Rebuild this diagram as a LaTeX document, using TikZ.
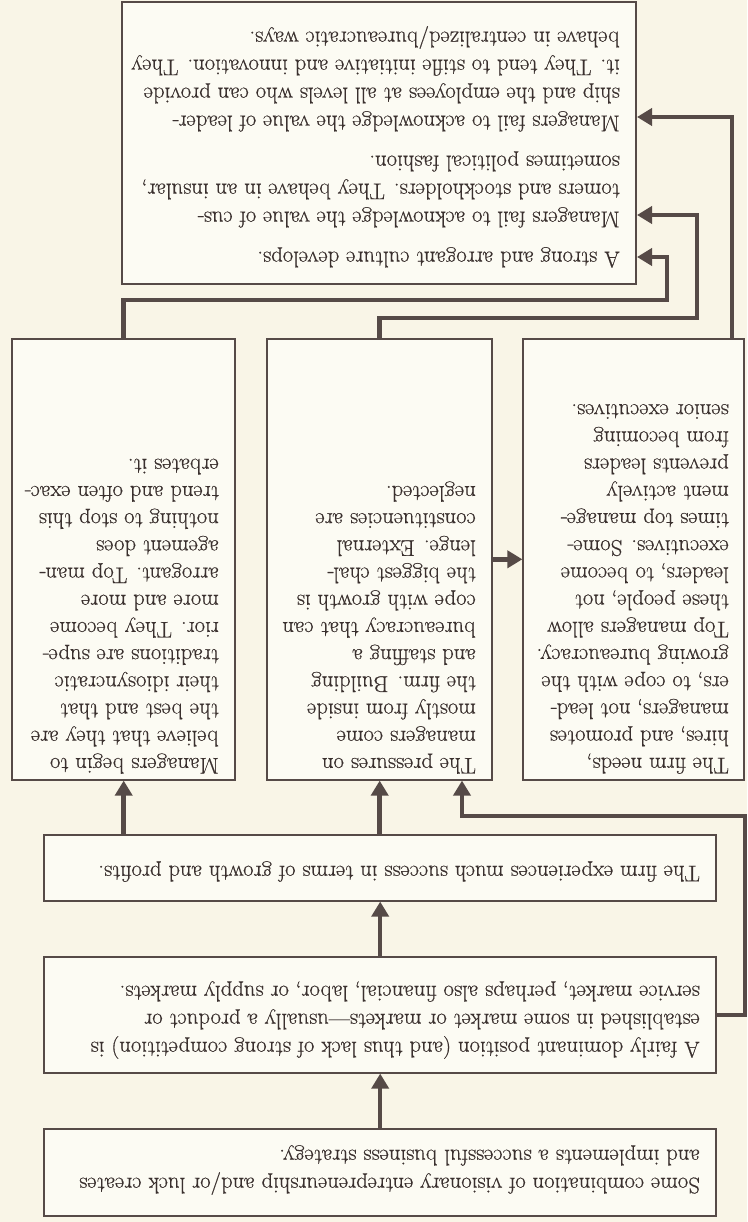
\documentclass[tikz,border=0pt]{standalone}
\usepackage{fontspec}
\setmainfont{Latin Modern Roman}[FakeBold=0.5]
\usetikzlibrary{arrows.meta}

\definecolor{paper}{HTML}{F9F5E7}
\definecolor{boxfill}{HTML}{FCFBF3}
\definecolor{ink}{HTML}{564A47}
\definecolor{textc}{HTML}{3A302E}

\begin{document}
\begin{tikzpicture}[x=1pt, y=1pt, rotate=180, transform shape,
  every node/.style={inner sep=0pt},
  box/.style={draw=ink, line width=1.6pt, fill=boxfill, anchor=south west},
  txt/.style={anchor=north west, align=left, text=textc,
    font=\fontsize{22.7}{27.2}\selectfont},
  widetxt/.style={txt, font=\fontsize{22.7}{28}\selectfont},
  conn/.style={draw=ink, line width=4.5pt, -{Triangle[width=17pt,length=15pt]}}]
  \fill[paper] (0,0) rectangle (747,1222);
  \useasboundingbox (0,0) rectangle (747,1222);

  % boxes
  \node[box, minimum width=672pt, minimum height=87pt] (strategy) at (30,1128) {};
  \node[box, minimum width=672pt, minimum height=116pt] (position) at (30,956) {};
  \node[box, minimum width=672pt, minimum height=66pt] (success) at (30,834) {};
  \node[box, minimum width=223pt, minimum height=441pt] (believe) at (511,338) {};
  \node[box, minimum width=225pt, minimum height=441pt] (pressures) at (254,338) {};
  \node[box, minimum width=221pt, minimum height=441pt] (needs) at (2,338) {};
  \node[box, minimum width=514pt, minimum height=282pt] (culture) at (110,1) {};

  % texts
  \node[widetxt] (strategy-txt) at (47,1195) {Some combination of visionary entrepreneurship and/or luck creates\\
    and implements a successful business strategy.};
  \node[widetxt] (position-txt) at (47,1059) {A fairly dominant position (and thus lack of strong competition) is\\
    established in some market or markets---usually a product or\\
    service market, perhaps also financial, labor, or supply markets.};
  \node[widetxt] (success-txt) at (47,882) {The firm experiences much success in terms of growth and profits.};
  \node[txt] (believe-txt) at (528,774) {Managers begin to\\ believe that they are\\ the best and that\\
    their idiosyncratic\\ traditions are supe-\\ rior. They become\\ more and more\\
    arrogant. Top man-\\ agement does\\ nothing to stop this\\ trend and often exac-\\ erbates it.};
  \node[txt] (pressures-txt) at (271,774) {The pressures on\\ managers come\\ mostly from inside\\
    the firm. Building\\ and staffing a\\ bureaucracy that can\\ cope with growth is\\
    the biggest chal-\\ lenge. External\\ constituencies are\\ neglected.};
  \node[txt] (needs-txt) at (18,774) {The firm needs,\\ hires, and promotes\\ managers, not lead-\\
    ers, to cope with the\\ growing bureaucracy.\\ Top managers allow\\ these people, not\\
    leaders, to become\\ executives. Some-\\ times top manage-\\ ment actively\\
    prevents leaders\\ from becoming\\ senior executives.};
  \node[widetxt] (culture-txt) at (127,268) {A strong and arrogant culture develops.\\[12pt]
    Managers fail to acknowledge the value of cus-\\
    tomers and stockholders. They behave in an insular,\\
    sometimes political fashion.\\[12pt]
    Managers fail to acknowledge the value of leader-\\
    ship and the employees at all levels who can provide\\
    it. They tend to stifle initiative and innovation. They\\
    behave in centralized/bureaucratic ways.};

  % connectors
  \draw[conn] (strategy.south) -- (position.north);
  \draw[conn] (position.south) -- (success.north);
  \draw[conn] (success.south -| believe.north) -- (believe.north);
  \draw[conn] (success.south -| pressures.north) -- (pressures.north);
  \draw[conn] (position.west) -| (2,816) -| (pressures.north -| 285,0);
  \draw[conn] (pressures.west) -- (needs.east);
  \draw[conn] (believe.south) |- (80,300) |- (culture.west |- 0,257);
  \draw[conn] (pressures.south) |- (50,318) |- (culture.west |- 0,215);
  \draw[conn] (needs.south -| 15,0) |- (culture.west |- 0,117);
\end{tikzpicture}
\end{document}
